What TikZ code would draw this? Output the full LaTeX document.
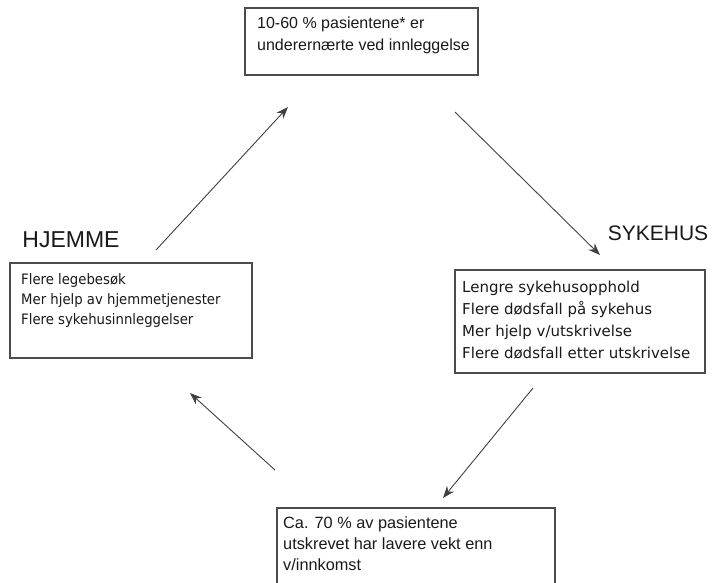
\documentclass[tikz,border=0pt]{standalone}
\usepackage{fontspec}
\setmainfont{Liberation Sans}
\newfontfamily\listfont{DejaVu Sans}
\newfontfamily\narrowfont[FakeStretch=0.92]{DejaVu Sans}
\usetikzlibrary{arrows.meta}
\tikzset{
  box/.style={draw=black!70, line width=1.2pt},
  flow/.style={draw=black!75, line width=0.9pt, -{Stealth[length=12pt,width=9pt]}},
  txt/.style={anchor=north west, inner sep=0pt, align=left, text=black!90},
  place/.style={inner sep=0pt, text=black!90},
}
\begin{document}
\begin{tikzpicture}[x=1pt,y=-1pt]
        \useasboundingbox (0,0) rectangle (717,582);
        \clip (0,0) rectangle (717,582);
        % boxes
        \draw[box] (245,8) rectangle (478,75);
        \draw[box] (10,263) rectangle (252,358);
        \draw[box] (455,270) rectangle (705,373);
        \draw[box] (277,508) rectangle (555,600);
        % texts
        \node[txt, font=\fontsize{16}{22}\selectfont] (innlegg) at (257,17)
          {10-60 \% pasientene* er\\underernærte ved innleggelse};
        \node[txt, font=\narrowfont\fontsize{14.4}{20}\selectfont] (hjem) at (21,273)
          {Flere legebesøk\\Mer hjelp av hjemmetjenester\\Flere sykehusinnleggelser};
        \node[txt, font=\listfont\fontsize{15}{22}\selectfont] (sykehus) at (462,281)
          {Lengre sykehusopphold\\Flere dødsfall på sykehus\\Mer hjelp v/utskrivelse\\Flere dødsfall etter utskrivelse};
        \node[txt, font=\fontsize{16.3}{21}\selectfont] (utskrevet) at (283,516)
          {Ca. 70 \% av pasientene\\utskrevet har lavere vekt enn\\v/innkomst};
        \node[place, font=\fontsize{23}{26}\selectfont] (hjemme) at (71,240) {HJEMME};
        \node[place, font=\fontsize{21}{24}\selectfont] (sykehuslbl) at (658,233) {SYKEHUS};
        % arrows
        \coordinate (a1s) at (156,250);
        \coordinate (a1e) at (288,107);
        \coordinate (a2s) at (455,112);
        \coordinate (a2e) at (600,255);
        \coordinate (a3s) at (533,388);
        \coordinate (a3e) at (443,498);
        \coordinate (a4s) at (275,470);
        \coordinate (a4e) at (190,393);
        \draw[flow] (a1s) -- (a1e);
        \draw[flow] (a2s) -- (a2e);
        \draw[flow] (a3s) -- (a3e);
        \draw[flow] (a4s) -- (a4e);
\end{tikzpicture}
\end{document}
